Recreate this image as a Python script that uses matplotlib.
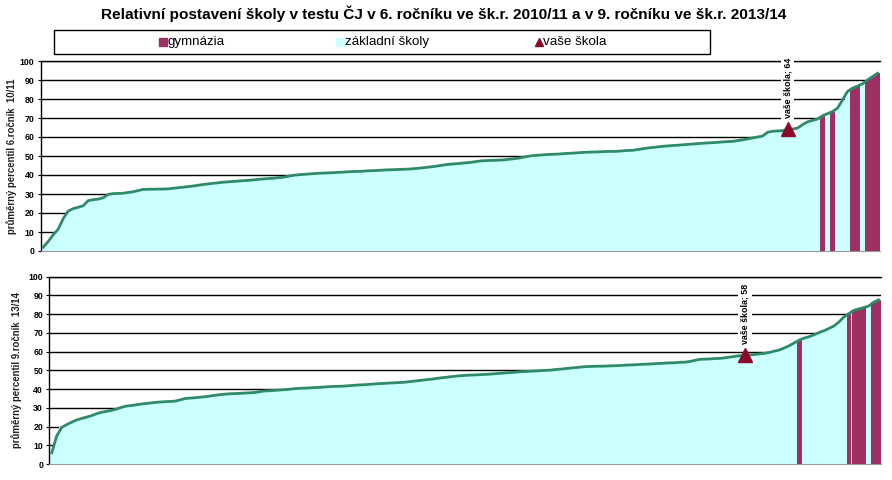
import matplotlib
matplotlib.use("Agg")
import matplotlib.pyplot as plt
from matplotlib.patches import Rectangle
from matplotlib.lines import Line2D
import numpy as np

plt.rcParams['font.family'] = ['Liberation Sans', 'DejaVu Sans']

title = "Relativní postavení školy v testu ČJ v 6. ročníku ve šk.r. 2010/11 a v 9. ročníku ve šk.r. 2013/14"
legend_labels = ["gymnázia", "základní školy", "vaše škola"]
ylabel_top = "průměrný percentil 6.ročník  10/11"
ylabel_bottom = "průměrný percentil 9.ročník  13/14"
yticks = [0, 10, 20, 30, 40, 50, 60, 70, 80, 90, 100]

# schools sorted by mean percentile, 6th grade 2010/11
top_values = [
    2.0, 5.0, 8.5, 11.5, 17.0, 21.0, 22.3, 23.0, 23.8, 26.5,
    27.0, 27.3, 28.0, 29.8, 30.2, 30.3, 30.4, 30.8, 31.2, 31.8,
    32.4, 32.5, 32.5, 32.6, 32.6, 32.7, 33.0, 33.3, 33.6, 33.9,
    34.2, 34.6, 35.0, 35.3, 35.6, 35.9, 36.2, 36.4, 36.6, 36.8,
    37.0, 37.2, 37.4, 37.7, 37.9, 38.1, 38.3, 38.6, 38.8, 39.3,
    39.8, 40.1, 40.3, 40.5, 40.7, 40.9, 41.0, 41.1, 41.2, 41.4,
    41.5, 41.7, 41.8, 41.9, 42.0, 42.2, 42.3, 42.4, 42.6, 42.7,
    42.8, 42.9, 43.0, 43.1, 43.3, 43.5, 43.8, 44.1, 44.4, 44.8,
    45.2, 45.6, 45.8, 46.0, 46.3, 46.5, 46.8, 47.2, 47.5, 47.6,
    47.7, 47.8, 47.9, 48.2, 48.5, 48.8, 49.3, 49.8, 50.2, 50.4,
    50.6, 50.8, 50.9, 51.0, 51.2, 51.4, 51.5, 51.7, 51.9, 52.0,
    52.1, 52.2, 52.3, 52.4, 52.4, 52.5, 52.7, 52.9, 53.0, 53.4,
    53.8, 54.2, 54.5, 54.8, 55.1, 55.3, 55.5, 55.7, 55.9, 56.1,
    56.3, 56.5, 56.7, 56.9, 57.0, 57.2, 57.4, 57.6, 57.7, 58.1,
    58.5, 59.0, 59.5, 60.0, 60.5, 62.5, 63.0, 63.2, 63.3, 64.0,
    64.2, 64.7, 66.5, 68.0, 68.7, 69.5, 71.2, 72.3, 73.4, 75.2,
    79.5, 84.0, 85.7, 86.8, 88.0, 90.0, 91.8, 93.5,
]
top_gym_idx = [156, 158, 162, 163, 165, 166, 167]
top_school_idx = 149
top_school_value = 64

# schools sorted by mean percentile, 9th grade 2013/14
bottom_values = [
    6.0, 15.0, 19.5, 21.0, 22.3, 23.5, 24.3, 25.0, 25.8, 26.8,
    27.6, 28.1, 28.6, 29.3, 30.2, 30.9, 31.2, 31.6, 32.0, 32.3,
    32.6, 32.9, 33.1, 33.3, 33.4, 33.6, 34.3, 35.0, 35.2, 35.4,
    35.7, 35.9, 36.3, 36.7, 37.0, 37.3, 37.5, 37.6, 37.7, 37.9,
    38.0, 38.2, 38.6, 39.0, 39.1, 39.3, 39.5, 39.7, 39.9, 40.2,
    40.4, 40.5, 40.6, 40.8, 40.9, 41.1, 41.3, 41.4, 41.5, 41.6,
    41.8, 42.0, 42.2, 42.3, 42.5, 42.7, 42.9, 43.0, 43.2, 43.3,
    43.5, 43.6, 43.9, 44.2, 44.5, 44.8, 45.1, 45.4, 45.8, 46.1,
    46.4, 46.7, 47.0, 47.2, 47.4, 47.5, 47.6, 47.8, 47.9, 48.1,
    48.3, 48.5, 48.7, 48.9, 49.1, 49.3, 49.4, 49.6, 49.7, 49.9,
    50.0, 50.2, 50.5, 50.7, 51.0, 51.3, 51.5, 51.8, 52.0, 52.1,
    52.2, 52.2, 52.3, 52.4, 52.5, 52.6, 52.8, 52.9, 53.0, 53.2,
    53.3, 53.4, 53.6, 53.7, 53.9, 54.0, 54.1, 54.3, 54.4, 54.8,
    55.4, 55.9, 56.0, 56.1, 56.3, 56.4, 56.7, 57.1, 57.5, 57.8,
    58.0, 58.2, 58.5, 58.8, 59.1, 59.6, 60.3, 60.9, 62.0, 63.2,
    64.7, 66.2, 67.2, 68.0, 69.0, 70.2, 71.2, 72.4, 73.7, 75.8,
    78.5, 80.3, 82.0, 82.8, 83.5, 84.3, 86.3, 87.6,
]
bottom_gym_idx = [151, 161, 162, 163, 164, 166, 167]
bottom_school_idx = 140
bottom_school_value = 58

CYAN = "#CCFFFF"
LINE = "#2E8B6A"
GYM = "#9E2F62"
MARK = "#8B0A2A"

W, H = 892, 480
fig = plt.figure(figsize=(W / 100, H / 100), dpi=100)


def fr(x0, y_top, x1, y_bot):
    return [x0 / W, 1 - y_bot / H, (x1 - x0) / W, (y_bot - y_top) / H]


def panel(rect, values, gym_idx, sch_idx, sch_val, ylabel, ylabel_x, label_offset):
    ax = fig.add_axes(rect)
    n = len(values)
    x = np.arange(n)
    vals = np.array(values)
    ax.bar(x, vals, width=1.0, color=CYAN, linewidth=0, zorder=2)
    gi = np.array(gym_idx)
    ax.bar(gi, vals[gi], width=0.9, color=GYM, linewidth=0, zorder=3)
    ax.plot(x, vals, color=LINE, lw=2.0, zorder=4, solid_joinstyle='round')
    ax.plot([sch_idx], [sch_val], marker='^', color=MARK, ms=9.5, ls='none', zorder=6)
    ax.annotate(f"vaše škola; {sch_val}", xy=(sch_idx, sch_val), xytext=(0, label_offset),
                textcoords='offset points', rotation=90, ha='center', va='bottom',
                fontsize=6.4, fontweight='bold', annotation_clip=False, zorder=7,
                bbox=dict(boxstyle='square,pad=0.25', fc='white', ec='none'))
    ax.set_xlim(-0.5, n - 0.5)
    ax.set_ylim(0, 100)
    ax.set_yticks(yticks)
    ax.set_yticklabels([str(t) for t in yticks], fontsize=6.3, fontweight='bold')
    ax.set_xticks([])
    ax.yaxis.grid(True, color='black', lw=1.0, zorder=0)
    ax.set_axisbelow(True)
    ax.tick_params(axis='y', length=2.5, width=0.8, pad=2)
    ax.spines['right'].set_visible(False)
    ax.spines['top'].set_color('black')
    ax.spines['top'].set_linewidth(1.0)
    ax.spines['left'].set_linewidth(1.0)
    ax.spines['bottom'].set_color('#999999')
    ax.spines['bottom'].set_linewidth(0.8)
    fig.text(ylabel_x / W, rect[1] + rect[3] / 2, ylabel, rotation=90, ha='center', va='center',
             fontsize=6.9, fontweight='bold', color='#222222')
    return ax


panel(fr(40.7, 61, 880, 251), top_values, top_gym_idx, top_school_idx, top_school_value,
      ylabel_top, 12, 8)
panel(fr(49.3, 276.7, 881, 464), bottom_values, bottom_gym_idx, bottom_school_idx, bottom_school_value,
      ylabel_bottom, 17, 8)

fig.text(444 / W, 1 - 14 / H, title, ha='center', va='center', fontsize=11.1, fontweight='bold')

# legend box
fig.add_artist(Rectangle((54 / W, 1 - 54 / H), (710 - 54) / W, 24 / H, transform=fig.transFigure,
                         fill=False, ec='black', lw=1.0))
ly = 1 - 42 / H
fig.add_artist(Line2D([163 / W], [ly], marker='s', color=GYM, ms=5.5, ls='none', transform=fig.transFigure))
fig.text(167 / W, ly, legend_labels[0], ha='left', va='center', fontsize=9.6)
fig.add_artist(Line2D([340 / W], [ly], marker='s', color=CYAN, ms=5.5, ls='none', transform=fig.transFigure))
fig.text(345 / W, ly, legend_labels[1], ha='left', va='center', fontsize=9.6)
fig.add_artist(Line2D([539 / W], [ly], marker='^', color=MARK, ms=5.5, ls='none', transform=fig.transFigure))
fig.text(543 / W, ly, legend_labels[2], ha='left', va='center', fontsize=9.6)

fig.savefig("out.png", dpi=100)
